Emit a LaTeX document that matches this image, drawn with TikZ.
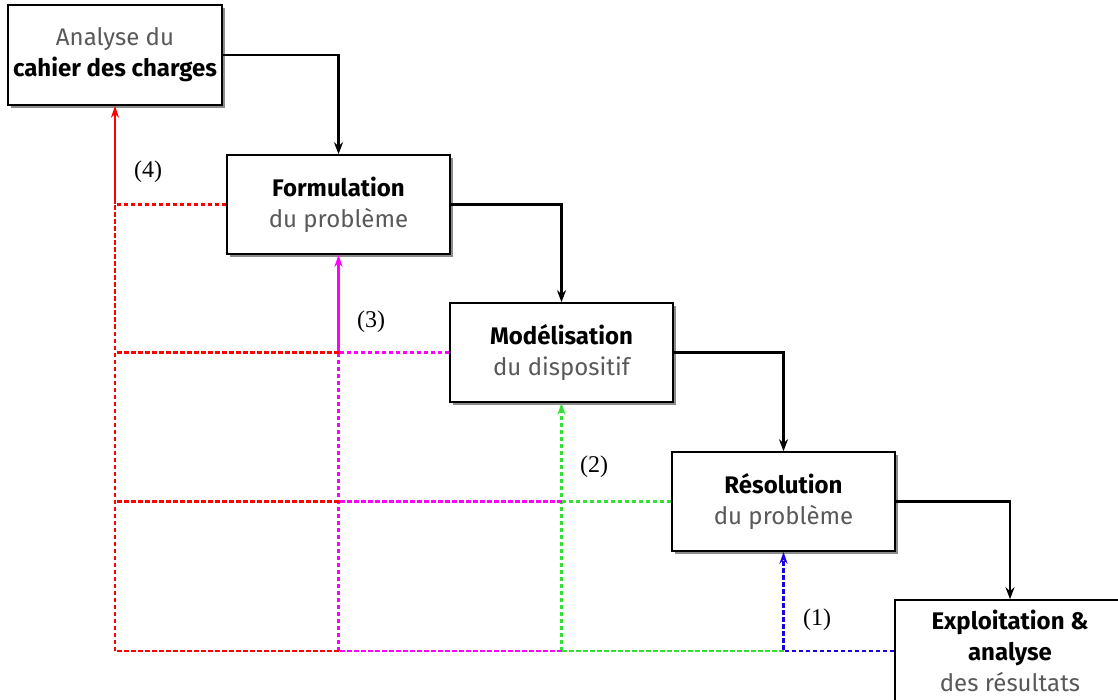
\documentclass[tikz,border=0pt]{standalone}
\usepackage{fontspec}
\setmainfont{Liberation Serif}
\newfontfamily\handfont{Fira Sans}
\usepackage{tikz}
\usetikzlibrary{shadows,arrows.meta}
\definecolor{txtgray}{rgb}{0.35,0.35,0.35}
\definecolor{fbred}{rgb}{1,0,0}
\definecolor{fbmagenta}{rgb}{1,0,1}
\definecolor{fbgreen}{rgb}{0.2,0.88,0.2}
\definecolor{fbblue}{rgb}{0.1,0,0.88}

\begin{document}
\begin{tikzpicture}[x=1pt,y=-1pt,
  stage/.style={draw,line width=1.6pt,fill=white,minimum width=223pt,minimum height=99pt,
    inner sep=0pt,align=center,font=\handfont\fontsize{24}{31}\selectfont,
    drop shadow={shadow xshift=3pt,shadow yshift=-3pt,fill=black!45,opacity=1}},
  flow/.style={line width=2.4pt,-{Stealth[length=12pt,width=9pt]}},
  fbline/.style={line width=2.3pt,dash pattern=on 4.5pt off 2.5pt},
  fbarrow/.style={fbline,-{Stealth[length=12pt,width=8pt]}},
  fbsolid/.style={line width=2.3pt,-{Stealth[length=12pt,width=8pt]}},
  lbl/.style={font=\fontsize{24}{26}\selectfont}]
  \useasboundingbox (0,0) rectangle (1118,700);

  % the five stages
  \node[stage,minimum width=214pt,minimum height=100pt] (A) at (115,55)
    {{\color{txtgray}Analyse du}\\\textbf{cahier des charges}};
  \node[stage] (F) at (338.5,204.5)
    {\textbf{Formulation}\\{\color{txtgray}du problème}};
  \node[stage] (M) at (561.5,352.5)
    {\textbf{Modélisation}\\{\color{txtgray}du dispositif}};
  \node[stage] (R) at (783.5,501.5)
    {\textbf{Résolution}\\{\color{txtgray}du problème}};
  \node[stage,minimum width=230pt,minimum height=102pt,drop shadow={opacity=0}] (E) at (1010,651)
    {\textbf{Exploitation \&}\\\textbf{analyse}\\{\color{txtgray}des résultats}};

  % main sequence
  \draw[flow] (A.east) -| (F.north);
  \draw[flow] (F.east) -| (M.north);
  \draw[flow] (M.east) -| (R.north);
  \draw[flow] (R.east) -| (E.north);

  % loop (1)
  \draw[fbarrow,fbblue] (E.west) -| (R.south);
  % loop (2)
  \draw[fbline,fbgreen] (R.south |- E.west) -- (M.south |- E.west);
  \draw[fbline,fbgreen] (R.west) -- (M.south |- R.west);
  \draw[fbarrow,fbgreen] (M.south |- E.west) -- (M.south);
  % loop (3)
  \draw[fbline,fbmagenta] (M.south |- E.west) -- (F.south |- E.west);
  \draw[fbline,fbmagenta] (M.south |- R.west) -- (F.south |- R.west);
  \draw[fbline,fbmagenta] (M.west) -- (F.south |- M.west);
  \draw[fbline,fbmagenta] (F.south |- E.west) -- (F.south |- M.west);
  \draw[fbsolid,fbmagenta] (F.south |- M.west) -- (F.south);
  % loop (4)
  \draw[fbline,fbred] (F.south |- E.west) -- (A.south |- E.west);
  \draw[fbline,fbred] (F.south |- R.west) -- (A.south |- R.west);
  \draw[fbline,fbred] (F.south |- M.west) -- (A.south |- M.west);
  \draw[fbline,fbred] (F.west) -- (A.south |- F.west);
  \draw[fbline,fbred] (A.south |- E.west) -- (A.south |- F.west);
  \draw[fbsolid,fbred] (A.south |- F.west) -- (A.south);

  \node[lbl] (l1) at (817,620) {(1)};
  \node[lbl] (l2) at (594,467) {(2)};
  \node[lbl] (l3) at (371,322) {(3)};
  \node[lbl] (l4) at (148,172) {(4)};
\end{tikzpicture}
\end{document}
